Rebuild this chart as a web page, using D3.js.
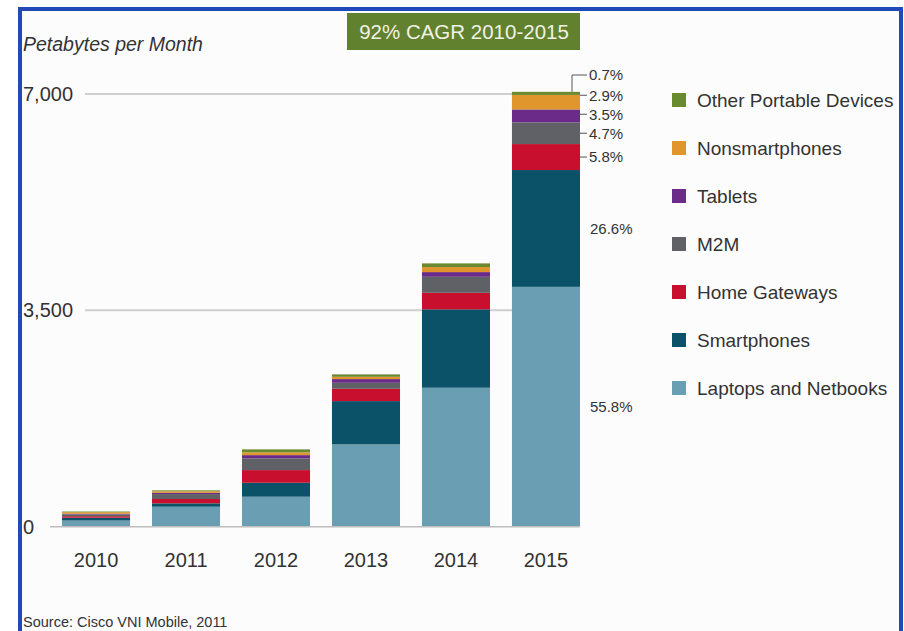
<!DOCTYPE html>
<html>
<head>
<meta charset="utf-8">
<script src="https://cdn.jsdelivr.net/npm/d3@7"></script>
<style>
  body { margin: 0; background: #fff; }
  text { font-family: "Liberation Sans", Arial, sans-serif; fill: #333; }
</style>
</head>
<body>
<svg id="chart"></svg>
<script>
const width = 904;
const height = 631;

// data (petabytes per month)
const years = ['2010', '2011', '2012', '2013', '2014', '2015'];
const categories = ['Laptops and Netbooks', 'Smartphones', 'Home Gateways', 'M2M', 'Tablets', 'Nonsmartphones', 'Other Portable Devices'];
const laptops = [100, 323, 485, 1332, 2248, 3880];
const smartphones = [45, 55, 226, 700, 1268, 1890];
const homeGateways = [25, 70, 205, 199, 268, 420];
const m2m = [30, 80, 189, 97, 259, 350];
const tablets = [10, 20, 53, 60, 76, 210];
const nonsmartphones = [25, 25, 44, 37, 81, 235];
const otherPortable = [10, 15, 49, 39, 60, 50];
const shares2015 = ['55.8%', '26.6%', '5.8%', '4.7%', '3.5%', '2.9%', '0.7%'];
const colors = ['#6a9fb3', '#0b5269', '#c8102e', '#606166', '#6a2c88', '#e0962c', '#6a8a30'];
const yTicks = [0, 3500, 7000];

const series = [laptops, smartphones, homeGateways, m2m, tablets, nonsmartphones, otherPortable];
const table = years.map((yr, i) => {
    const row = {year: yr};
    categories.forEach((c, k) => row[c] = series[k][i]);
    return row;
});

const svg = d3.select('#chart').attr('width', width).attr('height', height);

svg.append('rect').attr('x', 0).attr('y', 0).attr('width', width).attr('height', height).attr('fill', '#fff');
svg.append('rect')
    .attr('x', 20).attr('y', 9).attr('width', 881).attr('height', height + 20)
    .attr('fill', '#fcfcfc').attr('stroke', '#2149b8').attr('stroke-width', 4);

const x = d3.scaleBand().domain(years).range([62, 580]).paddingInner(0.244).paddingOuter(0);
const y = d3.scaleLinear().domain([0, 7000]).range([526.7, 94]);
const color = d3.scaleOrdinal().domain(categories).range(colors);

// gridlines
svg.append('g').selectAll('line').data(yTicks.filter(d => d > 0)).join('line')
    .attr('x1', 85).attr('x2', 512)
    .attr('y1', d => y(d)).attr('y2', d => y(d))
    .attr('stroke', '#cfcfcf').attr('stroke-width', 2);

// stacked bars
const stacked = d3.stack().keys(categories)(table);
svg.append('g').selectAll('g').data(stacked).join('g')
    .attr('fill', d => color(d.key))
    .selectAll('rect').data(d => d).join('rect')
    .attr('x', d => x(d.data.year))
    .attr('y', d => y(d[1]))
    .attr('width', x.bandwidth())
    .attr('height', d => y(d[0]) - y(d[1]));

// baseline
svg.append('line')
    .attr('x1', 50).attr('x2', 580)
    .attr('y1', y(0)).attr('y2', y(0))
    .attr('stroke', '#bdbdbd').attr('stroke-width', 1.5);

// y axis labels
const yAxis = svg.append('g').attr('transform', 'translate(23,0)')
    .call(d3.axisRight(y).tickValues(yTicks).tickFormat(d3.format(',')).tickSize(0).tickPadding(0));
yAxis.select('.domain').remove();
yAxis.selectAll('text').style('font-size', '20px').attr('fill', '#333');

// x axis labels
const xAxis = svg.append('g').attr('transform', `translate(0, ${y(0)})`)
    .call(d3.axisBottom(x).tickSize(0).tickPadding(26));
xAxis.select('.domain').remove();
xAxis.selectAll('text').style('font-size', '20px').attr('fill', '#333');

// share labels for 2015, pushed apart so they don't collide
const last = stacked.map(s => s[s.length - 1]);
const barRight = x('2015') + x.bandwidth();
const labels = svg.append('g');
let prevY = Infinity;
last.forEach((seg, k) => {
    const mid = (y(seg[0]) + y(seg[1])) / 2;
    if (k === last.length - 1) {
        const ty = 75;
        labels.append('path')
            .attr('d', `M${barRight - 8},${y(seg[1])} V${ty} H${barRight + 7}`)
            .attr('fill', 'none').attr('stroke', '#555').attr('stroke-width', 1);
        labels.append('text').attr('x', barRight + 9).attr('y', ty).attr('dy', '0.35em')
            .style('font-size', '15px').text(shares2015[k]);
    } else {
        let ly = mid;
        if (k >= 2) {
            ly = Math.min(mid, prevY - 19);
            labels.append('line')
                .attr('x1', barRight).attr('x2', barRight + 7)
                .attr('y1', ly).attr('y2', ly)
                .attr('stroke', '#555').attr('stroke-width', 1);
        }
        prevY = ly;
        labels.append('text').attr('x', k >= 2 ? barRight + 9 : barRight + 10).attr('y', ly).attr('dy', '0.35em')
            .style('font-size', '15px').text(shares2015[k]);
    }
});

// legend (top to bottom is reverse of stack order)
const legendOrder = categories.slice().reverse();
const ly = d3.scalePoint().domain(legendOrder).range([100, 388]);
const legend = svg.append('g').selectAll('g').data(legendOrder).join('g')
    .attr('transform', d => `translate(672, ${ly(d)})`);
legend.append('rect').attr('x', 0).attr('y', -7).attr('width', 14).attr('height', 14)
    .attr('fill', d => color(d));
legend.append('text').attr('x', 25).attr('dy', '0.35em')
    .style('font-size', '19px').text(d => d);

// title text
svg.append('text').attr('x', 23).attr('y', 51)
    .style('font-size', '19.5px').style('font-style', 'italic')
    .text('Petabytes per Month');

// CAGR box
svg.append('rect').attr('x', 347).attr('y', 13).attr('width', 233).attr('height', 37)
    .attr('fill', '#62812e');
svg.append('text').attr('x', 464).attr('y', 32).attr('dy', '0.35em')
    .attr('text-anchor', 'middle').style('font-size', '20.5px').style('fill', '#eef2e4')
    .text('92% CAGR 2010-2015');

// source
svg.append('text').attr('x', 23).attr('y', 627)
    .style('font-size', '14.5px').attr('fill', '#444')
    .text('Source: Cisco VNI Mobile, 2011');
</script>
</body>
</html>
